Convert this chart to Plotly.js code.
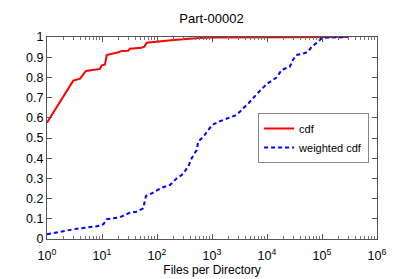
<!DOCTYPE html>
<html>
<head>
<meta charset="utf-8">
<script src="https://cdn.plot.ly/plotly-3.0.1.min.js"></script>
<style>html,body{margin:0;padding:0;background:#fff}#chart{width:399px;height:279px}</style>
</head>
<body>
<div id="chart"></div>
<script>
const cdfX = [1, 3, 4, 5.1, 9.2, 9.9, 11.3, 12.2, 19.8, 22.8, 30, 32, 52, 59, 65, 98, 200, 600, 1000, 300000];
const cdfY = [0.576, 0.784, 0.794, 0.832, 0.842, 0.86, 0.863, 0.911, 0.924, 0.931, 0.932, 0.942, 0.947, 0.952, 0.972, 0.977, 0.985, 0.995, 0.998, 1.0];
const wX = [1, 1.7, 3, 4.9, 8.6, 10.6, 12.2, 21, 32, 42.5, 56, 63, 80, 122, 172, 228, 282, 370, 427, 526, 563, 695, 860, 1000, 1300, 2100, 2800, 3700, 4600, 7400, 9800, 15000, 18400, 26000, 29000, 34000, 44000, 56000, 65000, 81000, 95000, 120000, 300000];
const wY = [0.023, 0.036, 0.048, 0.056, 0.064, 0.073, 0.098, 0.107, 0.13, 0.135, 0.152, 0.213, 0.226, 0.254, 0.267, 0.3, 0.317, 0.358, 0.4, 0.44, 0.482, 0.506, 0.54, 0.564, 0.58, 0.6, 0.614, 0.647, 0.672, 0.733, 0.766, 0.8, 0.837, 0.853, 0.883, 0.911, 0.916, 0.927, 0.952, 0.972, 0.99, 0.997, 1.0];
const xTickVals = [1, 10, 100, 1000, 10000, 100000, 1000000];
const xTickText = ['10<sup>0</sup>', '10<sup>1</sup>', '10<sup>2</sup>', '10<sup>3</sup>', '10<sup>4</sup>', '10<sup>5</sup>', '10<sup>6</sup>'];
const seriesNames = ['cdf', 'weighted cdf'];

const traces = [
  {x: cdfX, y: cdfY, name: seriesNames[0], mode: 'lines', line: {color: '#ff0000', width: 2}},
  {x: wX, y: wY, name: seriesNames[1], mode: 'lines', line: {color: '#0000ff', width: 2, dash: '4px,3px'}}
];
const font = {family: 'Liberation Sans, Arial, sans-serif', size: 12, color: '#000'};
const layout = {
  width: 399, height: 279,
  margin: {l: 47, r: 22, t: 37, b: 40},
  paper_bgcolor: '#fff', plot_bgcolor: '#fff',
  font: font,
  title: {text: 'Part-00002', x: 0.53, xanchor: 'center', y: 0.935, yanchor: 'middle', font: {family: font.family, size: 13, color: '#000'}},
  xaxis: {
    type: 'log', range: [0, 6], tickvals: xTickVals, ticktext: xTickText,
    ticks: 'inside', ticklen: 5, tickcolor: '#555', showgrid: false, zeroline: false,
    showline: true, linecolor: '#555', linewidth: 1, mirror: 'ticks',
    minor: {ticks: 'inside', ticklen: 3, tickcolor: '#777', dtick: 'D1', showgrid: false},
    tickfont: {family: font.family, size: 12.5, color: '#000'},
    ticklabelstandoff: 5,
    title: {text: 'Files per Directory', font: {family: font.family, size: 12, color: '#000'}, standoff: 3}
  },
  yaxis: {
    range: [0, 1], dtick: 0.1, tick0: 0,
    ticks: 'inside', ticklen: 5, tickcolor: '#555', showgrid: false, zeroline: false,
    showline: true, linecolor: '#555', linewidth: 1, mirror: 'ticks',
    tickfont: {family: font.family, size: 12.5, color: '#000'}
  },
  legend: {
    x: 0.976, xanchor: 'right', y: 0.5, yanchor: 'middle',
    bordercolor: '#888', borderwidth: 1, bgcolor: '#fff',
    font: {family: font.family, size: 11, color: '#000'},
    tracegroupgap: 0, itemwidth: 30
  },
  showlegend: true
};
Plotly.newPlot('chart', traces, layout, {displayModeBar: false, staticPlot: true});
</script>
</body>
</html>
